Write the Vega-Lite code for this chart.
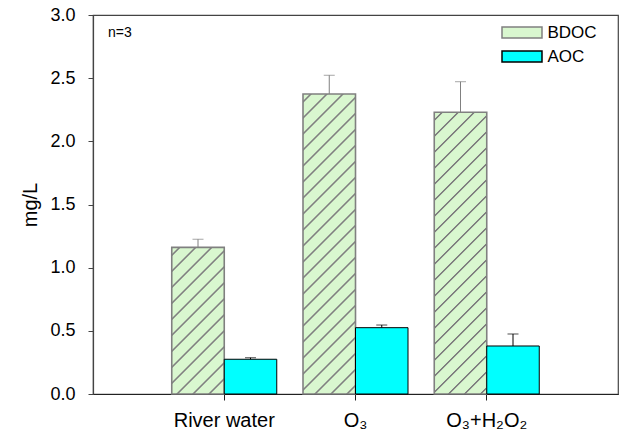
{
  "$schema": "https://vega.github.io/schema/vega-lite/v6.json",
  "autosize": "none",
  "width": 525,
  "height": 379,
  "padding": {"left": 93, "top": 15, "right": 2, "bottom": 41},
  "background": "white",
  "config": {
    "font": "Liberation Sans",
    "view": {"stroke": "#444444", "strokeWidth": 1.2},
    "axis": {"grid": false, "labelColor": "#000000", "titleColor": "#000000", "labelFont": "Liberation Sans", "titleFont": "Liberation Sans"}
  },
  "title": {"text": "n=3", "anchor": "start", "frame": "group", "offset": -45, "dx": 15, "fontSize": 14, "fontWeight": "normal", "font": "Liberation Sans", "color": "#000000", "baseline": "alphabetic"},
  "data": {
    "values": [
      {"group": "River water", "type": "BDOC", "value": 1.161, "upper": 1.225},
      {"group": "River water", "type": "AOC", "value": 0.275, "upper": 0.287},
      {"group": "O₃", "type": "BDOC", "value": 2.375, "upper": 2.523},
      {"group": "O₃", "type": "AOC", "value": 0.525, "upper": 0.546},
      {"group": "O₃+H₂O₂", "type": "BDOC", "value": 2.23, "upper": 2.472},
      {"group": "O₃+H₂O₂", "type": "AOC", "value": 0.38, "upper": 0.475}
    ]
  },
  "encoding": {
    "x": {"field": "group", "type": "nominal", "sort": ["River water", "O₃", "O₃+H₂O₂"],
      "scale": {"paddingInner": 0.2, "paddingOuter": 0.6, "align": 0.5},
      "axis": {"title": null, "labelAngle": 0, "labelFontSize": 20, "tickSize": 6, "labelPadding": 10, "domainColor": "#222222", "domainWidth": 1.2, "tickColor": "#222222"}},
    "xOffset": {"field": "type", "type": "nominal", "sort": ["BDOC", "AOC"], "scale": {"paddingInner": 0, "paddingOuter": 0}}
  },
  "layer": [
    {
      "mark": {"type": "bar"},
      "encoding": {
        "y": {"field": "value", "type": "quantitative",
          "scale": {"domain": [0, 3], "nice": false, "zero": true},
          "axis": {"values": [0, 0.5, 1, 1.5, 2, 2.5, 3], "format": ".1f", "labelFontSize": 18, "tickSize": 5, "labelPadding": 13, "domainColor": "#444444", "domainWidth": 1.2, "tickColor": "#444444", "title": "mg/L", "titleFontSize": 20, "titleFontWeight": "normal", "titleX": -63, "titleY": 189.5, "titleAngle": -90, "titleAlign": "center", "titleBaseline": "middle"}},
        "fill": {
          "condition": [
            {"test": "datum.type === 'BDOC' && datum.group === 'River water'", "value": {"gradient": "linear", "x1": 0, "y1": 0, "x2": 0.7785, "y2": 2.1754, "stops": [{"offset":0,"color":"#d9f7cf"},{"offset":0.01778,"color":"#d9f7cf"},{"offset":0.02056,"color":"#808080"},{"offset":0.02389,"color":"#808080"},{"offset":0.02667,"color":"#d9f7cf"},{"offset":0.06222,"color":"#d9f7cf"},{"offset":0.065,"color":"#808080"},{"offset":0.06833,"color":"#808080"},{"offset":0.07111,"color":"#d9f7cf"},{"offset":0.10667,"color":"#d9f7cf"},{"offset":0.10944,"color":"#808080"},{"offset":0.11278,"color":"#808080"},{"offset":0.11556,"color":"#d9f7cf"},{"offset":0.15111,"color":"#d9f7cf"},{"offset":0.15389,"color":"#808080"},{"offset":0.15722,"color":"#808080"},{"offset":0.16,"color":"#d9f7cf"},{"offset":0.19556,"color":"#d9f7cf"},{"offset":0.19833,"color":"#808080"},{"offset":0.20167,"color":"#808080"},{"offset":0.20444,"color":"#d9f7cf"},{"offset":0.24,"color":"#d9f7cf"},{"offset":0.24278,"color":"#808080"},{"offset":0.24611,"color":"#808080"},{"offset":0.24889,"color":"#d9f7cf"},{"offset":0.28444,"color":"#d9f7cf"},{"offset":0.28722,"color":"#808080"},{"offset":0.29056,"color":"#808080"},{"offset":0.29333,"color":"#d9f7cf"},{"offset":0.32889,"color":"#d9f7cf"},{"offset":0.33167,"color":"#808080"},{"offset":0.335,"color":"#808080"},{"offset":0.33778,"color":"#d9f7cf"},{"offset":0.37333,"color":"#d9f7cf"},{"offset":0.37611,"color":"#808080"},{"offset":0.37944,"color":"#808080"},{"offset":0.38222,"color":"#d9f7cf"},{"offset":0.41778,"color":"#d9f7cf"},{"offset":0.42056,"color":"#808080"},{"offset":0.42389,"color":"#808080"},{"offset":0.42667,"color":"#d9f7cf"},{"offset":0.46222,"color":"#d9f7cf"},{"offset":0.465,"color":"#808080"},{"offset":0.46833,"color":"#808080"},{"offset":0.47111,"color":"#d9f7cf"},{"offset":0.50667,"color":"#d9f7cf"},{"offset":0.50944,"color":"#808080"},{"offset":0.51278,"color":"#808080"},{"offset":0.51556,"color":"#d9f7cf"},{"offset":0.55111,"color":"#d9f7cf"},{"offset":0.55389,"color":"#808080"},{"offset":0.55722,"color":"#808080"},{"offset":0.56,"color":"#d9f7cf"},{"offset":0.59556,"color":"#d9f7cf"},{"offset":0.59833,"color":"#808080"},{"offset":0.60167,"color":"#808080"},{"offset":0.60444,"color":"#d9f7cf"},{"offset":1,"color":"#d9f7cf"}]}},
            {"test": "datum.type === 'BDOC' && datum.group === 'O₃'", "value": {"gradient": "linear", "x1": 0, "y1": 0, "x2": 0.2038, "y2": 1.1643, "stops": [{"offset":0,"color":"#d9f7cf"},{"offset":0.01778,"color":"#d9f7cf"},{"offset":0.02056,"color":"#808080"},{"offset":0.02389,"color":"#808080"},{"offset":0.02667,"color":"#d9f7cf"},{"offset":0.06222,"color":"#d9f7cf"},{"offset":0.065,"color":"#808080"},{"offset":0.06833,"color":"#808080"},{"offset":0.07111,"color":"#d9f7cf"},{"offset":0.10667,"color":"#d9f7cf"},{"offset":0.10944,"color":"#808080"},{"offset":0.11278,"color":"#808080"},{"offset":0.11556,"color":"#d9f7cf"},{"offset":0.15111,"color":"#d9f7cf"},{"offset":0.15389,"color":"#808080"},{"offset":0.15722,"color":"#808080"},{"offset":0.16,"color":"#d9f7cf"},{"offset":0.19556,"color":"#d9f7cf"},{"offset":0.19833,"color":"#808080"},{"offset":0.20167,"color":"#808080"},{"offset":0.20444,"color":"#d9f7cf"},{"offset":0.24,"color":"#d9f7cf"},{"offset":0.24278,"color":"#808080"},{"offset":0.24611,"color":"#808080"},{"offset":0.24889,"color":"#d9f7cf"},{"offset":0.28444,"color":"#d9f7cf"},{"offset":0.28722,"color":"#808080"},{"offset":0.29056,"color":"#808080"},{"offset":0.29333,"color":"#d9f7cf"},{"offset":0.32889,"color":"#d9f7cf"},{"offset":0.33167,"color":"#808080"},{"offset":0.335,"color":"#808080"},{"offset":0.33778,"color":"#d9f7cf"},{"offset":0.37333,"color":"#d9f7cf"},{"offset":0.37611,"color":"#808080"},{"offset":0.37944,"color":"#808080"},{"offset":0.38222,"color":"#d9f7cf"},{"offset":0.41778,"color":"#d9f7cf"},{"offset":0.42056,"color":"#808080"},{"offset":0.42389,"color":"#808080"},{"offset":0.42667,"color":"#d9f7cf"},{"offset":0.46222,"color":"#d9f7cf"},{"offset":0.465,"color":"#808080"},{"offset":0.46833,"color":"#808080"},{"offset":0.47111,"color":"#d9f7cf"},{"offset":0.50667,"color":"#d9f7cf"},{"offset":0.50944,"color":"#808080"},{"offset":0.51278,"color":"#808080"},{"offset":0.51556,"color":"#d9f7cf"},{"offset":0.55111,"color":"#d9f7cf"},{"offset":0.55389,"color":"#808080"},{"offset":0.55722,"color":"#808080"},{"offset":0.56,"color":"#d9f7cf"},{"offset":0.59556,"color":"#d9f7cf"},{"offset":0.59833,"color":"#808080"},{"offset":0.60167,"color":"#808080"},{"offset":0.60444,"color":"#d9f7cf"},{"offset":0.64,"color":"#d9f7cf"},{"offset":0.64278,"color":"#808080"},{"offset":0.64611,"color":"#808080"},{"offset":0.64889,"color":"#d9f7cf"},{"offset":0.68444,"color":"#d9f7cf"},{"offset":0.68722,"color":"#808080"},{"offset":0.69056,"color":"#808080"},{"offset":0.69333,"color":"#d9f7cf"},{"offset":0.72889,"color":"#d9f7cf"},{"offset":0.73167,"color":"#808080"},{"offset":0.735,"color":"#808080"},{"offset":0.73778,"color":"#d9f7cf"},{"offset":0.77333,"color":"#d9f7cf"},{"offset":0.77611,"color":"#808080"},{"offset":0.77944,"color":"#808080"},{"offset":0.78222,"color":"#d9f7cf"},{"offset":0.81778,"color":"#d9f7cf"},{"offset":0.82056,"color":"#808080"},{"offset":0.82389,"color":"#808080"},{"offset":0.82667,"color":"#d9f7cf"},{"offset":0.86222,"color":"#d9f7cf"},{"offset":0.865,"color":"#808080"},{"offset":0.86833,"color":"#808080"},{"offset":0.87111,"color":"#d9f7cf"},{"offset":0.90667,"color":"#d9f7cf"},{"offset":0.90944,"color":"#808080"},{"offset":0.91278,"color":"#808080"},{"offset":0.91556,"color":"#d9f7cf"},{"offset":0.95111,"color":"#d9f7cf"},{"offset":0.95389,"color":"#808080"},{"offset":0.95722,"color":"#808080"},{"offset":0.96,"color":"#d9f7cf"},{"offset":1,"color":"#d9f7cf"}]}},
            {"test": "datum.type === 'BDOC' && datum.group === 'O₃+H₂O₂'", "value": {"gradient": "linear", "x1": 0, "y1": 0, "x2": 0.2302, "y2": 1.2351, "stops": [{"offset":0,"color":"#d9f7cf"},{"offset":0.01778,"color":"#d9f7cf"},{"offset":0.02056,"color":"#808080"},{"offset":0.02389,"color":"#808080"},{"offset":0.02667,"color":"#d9f7cf"},{"offset":0.06222,"color":"#d9f7cf"},{"offset":0.065,"color":"#808080"},{"offset":0.06833,"color":"#808080"},{"offset":0.07111,"color":"#d9f7cf"},{"offset":0.10667,"color":"#d9f7cf"},{"offset":0.10944,"color":"#808080"},{"offset":0.11278,"color":"#808080"},{"offset":0.11556,"color":"#d9f7cf"},{"offset":0.15111,"color":"#d9f7cf"},{"offset":0.15389,"color":"#808080"},{"offset":0.15722,"color":"#808080"},{"offset":0.16,"color":"#d9f7cf"},{"offset":0.19556,"color":"#d9f7cf"},{"offset":0.19833,"color":"#808080"},{"offset":0.20167,"color":"#808080"},{"offset":0.20444,"color":"#d9f7cf"},{"offset":0.24,"color":"#d9f7cf"},{"offset":0.24278,"color":"#808080"},{"offset":0.24611,"color":"#808080"},{"offset":0.24889,"color":"#d9f7cf"},{"offset":0.28444,"color":"#d9f7cf"},{"offset":0.28722,"color":"#808080"},{"offset":0.29056,"color":"#808080"},{"offset":0.29333,"color":"#d9f7cf"},{"offset":0.32889,"color":"#d9f7cf"},{"offset":0.33167,"color":"#808080"},{"offset":0.335,"color":"#808080"},{"offset":0.33778,"color":"#d9f7cf"},{"offset":0.37333,"color":"#d9f7cf"},{"offset":0.37611,"color":"#808080"},{"offset":0.37944,"color":"#808080"},{"offset":0.38222,"color":"#d9f7cf"},{"offset":0.41778,"color":"#d9f7cf"},{"offset":0.42056,"color":"#808080"},{"offset":0.42389,"color":"#808080"},{"offset":0.42667,"color":"#d9f7cf"},{"offset":0.46222,"color":"#d9f7cf"},{"offset":0.465,"color":"#808080"},{"offset":0.46833,"color":"#808080"},{"offset":0.47111,"color":"#d9f7cf"},{"offset":0.50667,"color":"#d9f7cf"},{"offset":0.50944,"color":"#808080"},{"offset":0.51278,"color":"#808080"},{"offset":0.51556,"color":"#d9f7cf"},{"offset":0.55111,"color":"#d9f7cf"},{"offset":0.55389,"color":"#808080"},{"offset":0.55722,"color":"#808080"},{"offset":0.56,"color":"#d9f7cf"},{"offset":0.59556,"color":"#d9f7cf"},{"offset":0.59833,"color":"#808080"},{"offset":0.60167,"color":"#808080"},{"offset":0.60444,"color":"#d9f7cf"},{"offset":0.64,"color":"#d9f7cf"},{"offset":0.64278,"color":"#808080"},{"offset":0.64611,"color":"#808080"},{"offset":0.64889,"color":"#d9f7cf"},{"offset":0.68444,"color":"#d9f7cf"},{"offset":0.68722,"color":"#808080"},{"offset":0.69056,"color":"#808080"},{"offset":0.69333,"color":"#d9f7cf"},{"offset":0.72889,"color":"#d9f7cf"},{"offset":0.73167,"color":"#808080"},{"offset":0.735,"color":"#808080"},{"offset":0.73778,"color":"#d9f7cf"},{"offset":0.77333,"color":"#d9f7cf"},{"offset":0.77611,"color":"#808080"},{"offset":0.77944,"color":"#808080"},{"offset":0.78222,"color":"#d9f7cf"},{"offset":0.81778,"color":"#d9f7cf"},{"offset":0.82056,"color":"#808080"},{"offset":0.82389,"color":"#808080"},{"offset":0.82667,"color":"#d9f7cf"},{"offset":0.86222,"color":"#d9f7cf"},{"offset":0.865,"color":"#808080"},{"offset":0.86833,"color":"#808080"},{"offset":0.87111,"color":"#d9f7cf"},{"offset":0.90667,"color":"#d9f7cf"},{"offset":0.90944,"color":"#808080"},{"offset":0.91278,"color":"#808080"},{"offset":0.91556,"color":"#d9f7cf"},{"offset":1,"color":"#d9f7cf"}]}}
          ],
          "field": "type", "type": "nominal",
          "scale": {"domain": ["BDOC", "AOC"], "range": ["#d9f7cf", "#00ffff"]},
          "legend": {"orient": "none", "legendX": 420.5, "legendY": 9, "title": null, "padding": 0,
            "symbolType": "M-3.636,-1H3.636V1H-3.636Z", "symbolSize": 121, "symbolStrokeWidth": 1.5,
            "labelFontSize": 17, "labelFont": "Liberation Sans", "labelColor": "#000000", "labelOffset": 17, "rowPadding": 6}
        },
        "stroke": {"field": "type", "type": "nominal", "scale": {"domain": ["BDOC", "AOC"], "range": ["#808080", "#000000"]}, "legend": null},
        "strokeWidth": {"condition": {"test": "datum.type === 'BDOC'", "value": 1.6}, "value": 1}
      }
    },
    {
      "mark": {"type": "rule", "strokeWidth": 1},
      "encoding": {
        "y": {"field": "value", "type": "quantitative"},
        "y2": {"field": "upper"},
        "stroke": {"condition": {"test": "datum.type === 'BDOC'", "value": "#808080"}, "value": "#000000"}
      }
    },
    {
      "mark": {"type": "tick", "size": 11, "thickness": 1},
      "encoding": {
        "y": {"field": "upper", "type": "quantitative"},
        "color": {"condition": {"test": "datum.type === 'BDOC'", "value": "#808080"}, "value": "#000000"}
      }
    }
  ]
}
